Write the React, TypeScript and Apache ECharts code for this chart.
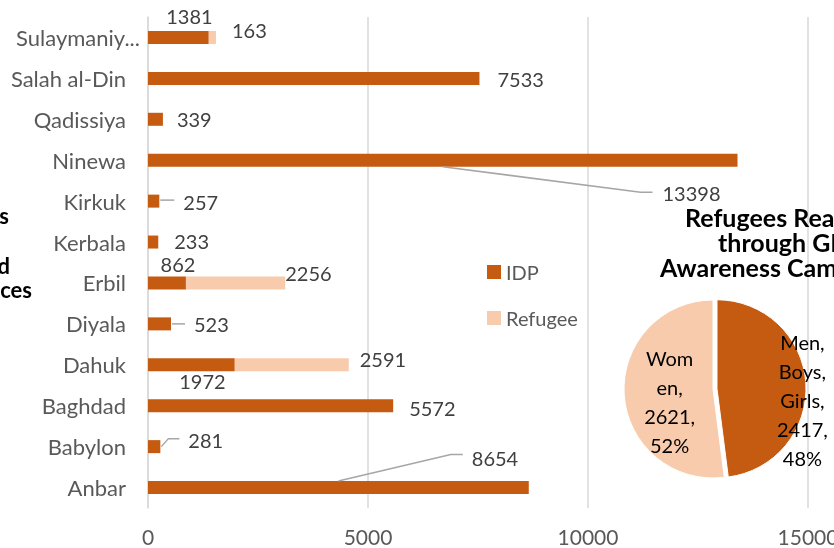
import React, { useEffect, useRef } from 'react';
import * as echarts from 'echarts';

// ---------- data ----------
const categories = ['Anbar', 'Babylon', 'Baghdad', 'Dahuk', 'Diyala', 'Erbil', 'Kerbala', 'Kirkuk', 'Ninewa', 'Qadissiya', 'Salah al-Din', 'Sulaymaniyah'];
const idpValues = [8654, 281, 5572, 1972, 523, 862, 233, 257, 13398, 339, 7533, 1381];
const refugeeValues = [0, 0, 0, 2591, 0, 2256, 0, 0, 0, 0, 0, 163];
const seriesNames = ['IDP', 'Refugee'];
const xTicks = [0, 5000, 10000, 15000];

const pieNames = ['Men, Boys, Girls', 'Women'];
const pieValues = [2417, 2621];
const pieWrappedNames = ['Men,\nBoys,\nGirls', 'Wom\nen'];
const pieTitleLines = ['Refugees Reached', 'through GBV', 'Awareness Campaign'];
const leftTitleTails = ['s', 'd', 'ces'];

// ---------- styles ----------
const DARK = '#C55A11';
const LIGHT = '#F8CBAD';
const FONT = 'Lato';
const BAR_W = 13;
const LABEL_DIST = 5;

type LabelCfg = { position: string; offset: [number, number]; distance?: number };
const idpLabelCfg: Record<string, LabelCfg> = {
  Anbar: { position: 'right', offset: [-62, -30] },
  Babylon: { position: 'right', offset: [23, -7] },
  Baghdad: { position: 'right', offset: [11, 2] },
  Dahuk: { position: 'bottom', offset: [11, 0], distance: 0 },
  Diyala: { position: 'right', offset: [18, 0] },
  Erbil: { position: 'top', offset: [11, 0], distance: 2 },
  Kerbala: { position: 'right', offset: [11, -1] },
  Kirkuk: { position: 'right', offset: [19, 1] },
  Ninewa: { position: 'right', offset: [-80, 33] },
  Qadissiya: { position: 'right', offset: [9, 0] },
  'Salah al-Din': { position: 'right', offset: [13, 1] },
  Sulaymaniyah: { position: 'top', offset: [11, 0], distance: 5 },
};
const refLabelCfg: Record<string, LabelCfg> = {
  Dahuk: { position: 'right', offset: [6, -6] },
  Erbil: { position: 'right', offset: [-5, -10] },
  Sulaymaniyah: { position: 'right', offset: [11, -7] },
};

export default function App() {
  const ref = useRef<HTMLDivElement>(null);

  useEffect(() => {
    if (!ref.current) return;
    const chart = echarts.init(ref.current, null, { renderer: 'svg' });

    const labelBase = { show: true, fontSize: 20, color: '#404040', fontFamily: FONT };

    const option: any = {
      animation: false,
      textStyle: { fontFamily: FONT },
      grid: { left: 148, right: 26, top: 17, bottom: 40, containLabel: false, outerBoundsMode: 'none' },
      legend: {
        data: seriesNames,
        orient: 'vertical',
        left: 482,
        top: 257,
        itemWidth: 14,
        itemHeight: 14,
        itemGap: 26,
        icon: 'rect',
        textStyle: { fontSize: 20, color: '#595959', fontFamily: FONT },
      },
      xAxis: {
        type: 'value',
        min: xTicks[0],
        max: xTicks[xTicks.length - 1],
        interval: xTicks[1] - xTicks[0],
        axisLine: { show: false },
        axisTick: { show: false },
        axisLabel: {
          fontSize: 21,
          color: '#595959',
          margin: 18,
          fontFamily: FONT,
          formatter: (v: number) => String(v),
        },
        splitLine: { lineStyle: { color: '#d9d9d9', width: 1.5 } },
      },
      yAxis: {
        type: 'category',
        data: categories.map((c) =>
          c === 'Sulaymaniyah' ? { value: c, textStyle: { padding: [0, -14, 0, 0] } } : c
        ),
        axisLine: { show: true, lineStyle: { color: '#d9d9d9', width: 1.5 } },
        axisTick: { show: false },
        axisLabel: {
          fontSize: 22,
          color: '#595959',
          margin: 22,
          fontFamily: FONT,
          width: 126,
          overflow: 'truncate',
          ellipsis: '...',
        },
      },
      series: [
        {
          name: seriesNames[0],
          type: 'bar',
          stack: 'total',
          barWidth: BAR_W,
          itemStyle: { color: DARK },
          emphasis: { disabled: true },
          data: idpValues.map((v, i) => {
            const c = idpLabelCfg[categories[i]];
            return {
              value: v,
              label: { ...labelBase, position: c.position, offset: c.offset, distance: c.distance ?? LABEL_DIST },
            };
          }),
        },
        {
          name: seriesNames[1],
          type: 'bar',
          stack: 'total',
          barWidth: BAR_W,
          itemStyle: { color: LIGHT },
          emphasis: { disabled: true },
          data: refugeeValues.map((v, i) => {
            const c = refLabelCfg[categories[i]];
            return {
              value: v,
              label: c
                ? { ...labelBase, position: c.position, offset: c.offset, distance: c.distance ?? LABEL_DIST }
                : { show: false },
            };
          }),
        },
        {
          name: 'pie',
          type: 'pie',
          center: [713, 389],
          radius: 89,
          startAngle: 90,
          clockwise: true,
          selectedMode: 'single',
          selectedOffset: 4,
          emphasis: { disabled: true },
          itemStyle: { borderColor: '#ffffff', borderWidth: 1 },
          label: {
            show: true,
            position: 'inside',
            fontSize: 20,
            lineHeight: 29,
            color: '#000000',
            fontFamily: FONT,
            formatter: (p: any) => `${pieWrappedNames[p.dataIndex]},\n${p.value},\n${Math.round(p.percent)}%`,
          },
          labelLine: { show: false },
          labelLayout: (p: any) => (p.dataIndex === 0 ? { dx: 38, dy: 14 } : { dx: 2, dy: 4.5 }),
          data: pieValues.map((v, i) => ({
            name: pieNames[i],
            value: v,
            selected: i === 0,
            itemStyle: { color: i === 0 ? DARK : LIGHT },
          })),
        },
      ],
    };

    chart.setOption(option);

    // leader lines, computed from the chart's own scales
    const px = (v: number, i: number) => chart.convertToPixel({ gridIndex: 0 }, [v, i]) as number[];
    const idx = (name: string) => categories.indexOf(name);
    const half = BAR_W / 2;
    const lineStyle = { stroke: '#A6A6A6', lineWidth: 1.5, fill: null };
    const labelAnchor = (name: string) => {
      const i = idx(name);
      const [ex, cy] = px(idpValues[i], i);
      const c = idpLabelCfg[name];
      return { left: ex + LABEL_DIST + c.offset[0], cy: cy + c.offset[1], ex, cy0: cy, i };
    };
    const lines: number[][][] = [];
    {
      const a = labelAnchor('Kirkuk');
      lines.push([[a.ex + 1, a.cy0 - 1], [a.ex + 15, a.cy0 - 1]]);
    }
    {
      const a = labelAnchor('Diyala');
      lines.push([[a.ex + 1, a.cy0], [a.ex + 14, a.cy0]]);
    }
    {
      const a = labelAnchor('Babylon');
      lines.push([[a.ex + 1, a.cy0], [a.ex + 8, a.cy0 - 8], [a.ex + 19, a.cy0 - 8]]);
    }
    {
      const a = labelAnchor('Anbar');
      const [mx, my] = px(idpValues[a.i] / 2, a.i);
      lines.push([[mx, my - half], [a.left - 21, a.cy - 3], [a.left - 9, a.cy - 3]]);
    }
    {
      const a = labelAnchor('Ninewa');
      const [mx, my] = px(idpValues[a.i] / 2, a.i);
      lines.push([[mx, my + half], [a.left - 22, a.cy - 1], [a.left - 10, a.cy - 1]]);
    }

    const titleStyle = { fill: '#000000', fontSize: 25, lineHeight: 22, fontWeight: 'bold', fontFamily: FONT, textVerticalAlign: 'middle' };
    const tailStyle = { fill: '#000000', fontSize: 22, lineHeight: 20, fontWeight: 'bold', fontFamily: FONT, textVerticalAlign: 'middle' };
    const pieTitleX = [685, 718, 660];
    const pieTitleY = [217, 242, 267];
    const tailX = [9, 10, 32];
    const tailY = [215, 265, 289];

    chart.setOption({
      graphic: [
        ...lines.map((pts) => ({ type: 'polyline', shape: { points: pts }, style: lineStyle, z: 10, silent: true })),
        ...pieTitleLines.map((t, i) => ({
          type: 'text',
          x: pieTitleX[i],
          y: pieTitleY[i],
          style: { ...titleStyle, text: t, textAlign: 'left' },
          z: 10,
        })),
        ...leftTitleTails.map((t, i) => ({
          type: 'text',
          x: tailX[i],
          y: tailY[i],
          style: { ...tailStyle, text: t, textAlign: 'right' },
          z: 10,
        })),
      ],
    });

    return () => chart.dispose();
  }, []);

  return <div ref={ref} style={{ position: 'fixed', left: 0, top: 0, width: 834, height: 548 }} />;
}
